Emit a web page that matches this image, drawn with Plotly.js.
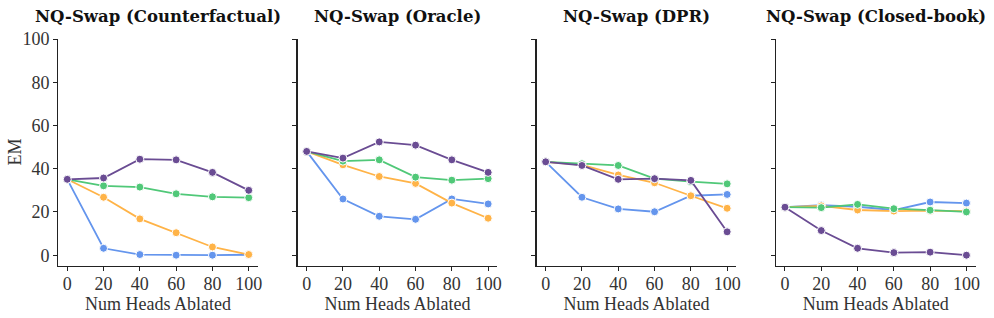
<!DOCTYPE html>
<html>
<head>
<meta charset="utf-8">
<script src="https://cdn.plot.ly/plotly-3.0.1.min.js"></script>
<style>html,body{margin:0;padding:0;background:#fff;}#chart{width:994px;height:318px;}</style>
</head>
<body>
<div id="chart"></div>
<script>
const heads = [0, 20, 40, 60, 80, 100];
const panelTitles = ["NQ-Swap (Counterfactual)", "NQ-Swap (Oracle)", "NQ-Swap (DPR)", "NQ-Swap (Closed-book)"];
const seriesNames = ["blue", "orange", "green", "purple"];
const seriesColors = ["#6495ED", "#FFB347", "#50C878", "#6A4C93"];

// values per panel, per series (blue, orange, green, purple)
const counterfactual = {
  blue:   [35.1, 3.2, 0.3, 0.0, 0.0, 0.2],
  orange: [35.1, 26.8, 16.8, 10.4, 3.8, 0.3],
  green:  [35.1, 32.1, 31.5, 28.4, 27.0, 26.6],
  purple: [35.1, 35.7, 44.4, 44.1, 38.3, 30.0]
};
const oracle = {
  blue:   [48.0, 26.0, 18.0, 16.6, 26.0, 23.7],
  orange: [48.0, 41.8, 36.4, 33.2, 24.1, 17.1],
  green:  [48.0, 43.5, 44.1, 36.1, 34.7, 35.4],
  purple: [48.0, 44.9, 52.4, 50.9, 44.1, 38.3]
};
const dpr = {
  blue:   [43.2, 26.8, 21.4, 20.1, 27.5, 28.1],
  orange: [43.2, 41.8, 37.1, 33.5, 27.5, 21.7],
  green:  [43.2, 42.3, 41.5, 35.4, 34.0, 33.0],
  purple: [43.2, 41.5, 35.1, 35.4, 34.6, 10.8]
};
const closedBook = {
  blue:   [22.2, 23.2, 22.4, 20.9, 24.6, 24.1],
  orange: [22.2, 22.8, 20.9, 20.4, 20.6, 20.4],
  green:  [22.2, 22.0, 23.5, 21.5, 20.8, 20.0],
  purple: [22.2, 11.4, 3.2, 1.2, 1.4, 0.0]
};
const panels = [counterfactual, oracle, dpr, closedBook];
const yTitle = "EM";
const xTitle = "Num Heads Ablated";

const W = 994;
const domainsPx = [[58.2, 257.8], [297.6, 497.2], [536.6, 736.2], [775.9, 975.5]];
const font = "'Liberation Serif', 'Times New Roman', serif";

const traces = [];
const layout = {
  width: 994, height: 318,
  margin: {l: 0, r: 0, t: 38.7, b: 51.8},
  paper_bgcolor: "#fff", plot_bgcolor: "#fff",
  showlegend: false,
  font: {family: font, size: 18, color: "#222"},
  annotations: [{
    text: yTitle, xref: "paper", yref: "paper",
    x: 14 / W, y: 0.5, xanchor: "center", yanchor: "middle",
    textangle: -90, showarrow: false,
    font: {family: font, size: 18, color: "#333"}
  }]
};

panels.forEach((p, i) => {
  const ax = i === 0 ? "" : String(i + 1);
  seriesNames.forEach((s, j) => {
    traces.push({
      x: heads, y: p[s],
      xaxis: "x" + ax, yaxis: "y" + ax,
      type: "scatter", mode: "lines+markers",
      line: {color: seriesColors[j], width: 1.8},
      marker: {color: seriesColors[j], size: 8, line: {color: "#fff", width: 1}},
      hoverinfo: "skip"
    });
  });
  const d = domainsPx[i];
  layout["xaxis" + ax] = {
    domain: [d[0] / W, d[1] / W], anchor: "y" + ax,
    range: [-5, 105], tickvals: heads, ticktext: heads.map(String),
    showgrid: false, zeroline: false, showline: true, linecolor: "#222", linewidth: 1.2,
    ticks: "outside", ticklen: 4, tickcolor: "#222", tickwidth: 1,
    ticklabelstandoff: -3,
    tickfont: {family: font, size: 18, color: "#333"},
    title: {text: xTitle, font: {family: font, size: 18, color: "#333"}, standoff: 0}
  };
  layout["yaxis" + ax] = {
    domain: [0, 1], anchor: "x" + ax,
    range: [-5, 100], tickvals: [0, 20, 40, 60, 80, 100],
    showticklabels: i === 0,
    showgrid: false, zeroline: false, showline: true, linecolor: "#222", linewidth: 1.2,
    ticks: "outside", ticklen: 4, tickcolor: "#222", tickwidth: 1,
    tickfont: {family: font, size: 18, color: "#333"}
  };
  layout.annotations.push({
    text: "<b>" + panelTitles[i] + "</b>",
    xref: "paper", yref: "paper",
    x: (d[0] + d[1]) / 2 / W, y: 1, yshift: 23,
    xanchor: "center", yanchor: "middle", showarrow: false,
    font: {family: "'DejaVu Serif', serif", size: 16.5, color: "#111"}
  });
});

Plotly.newPlot("chart", traces, layout, {staticPlot: true, displayModeBar: false});
</script>
</body>
</html>
